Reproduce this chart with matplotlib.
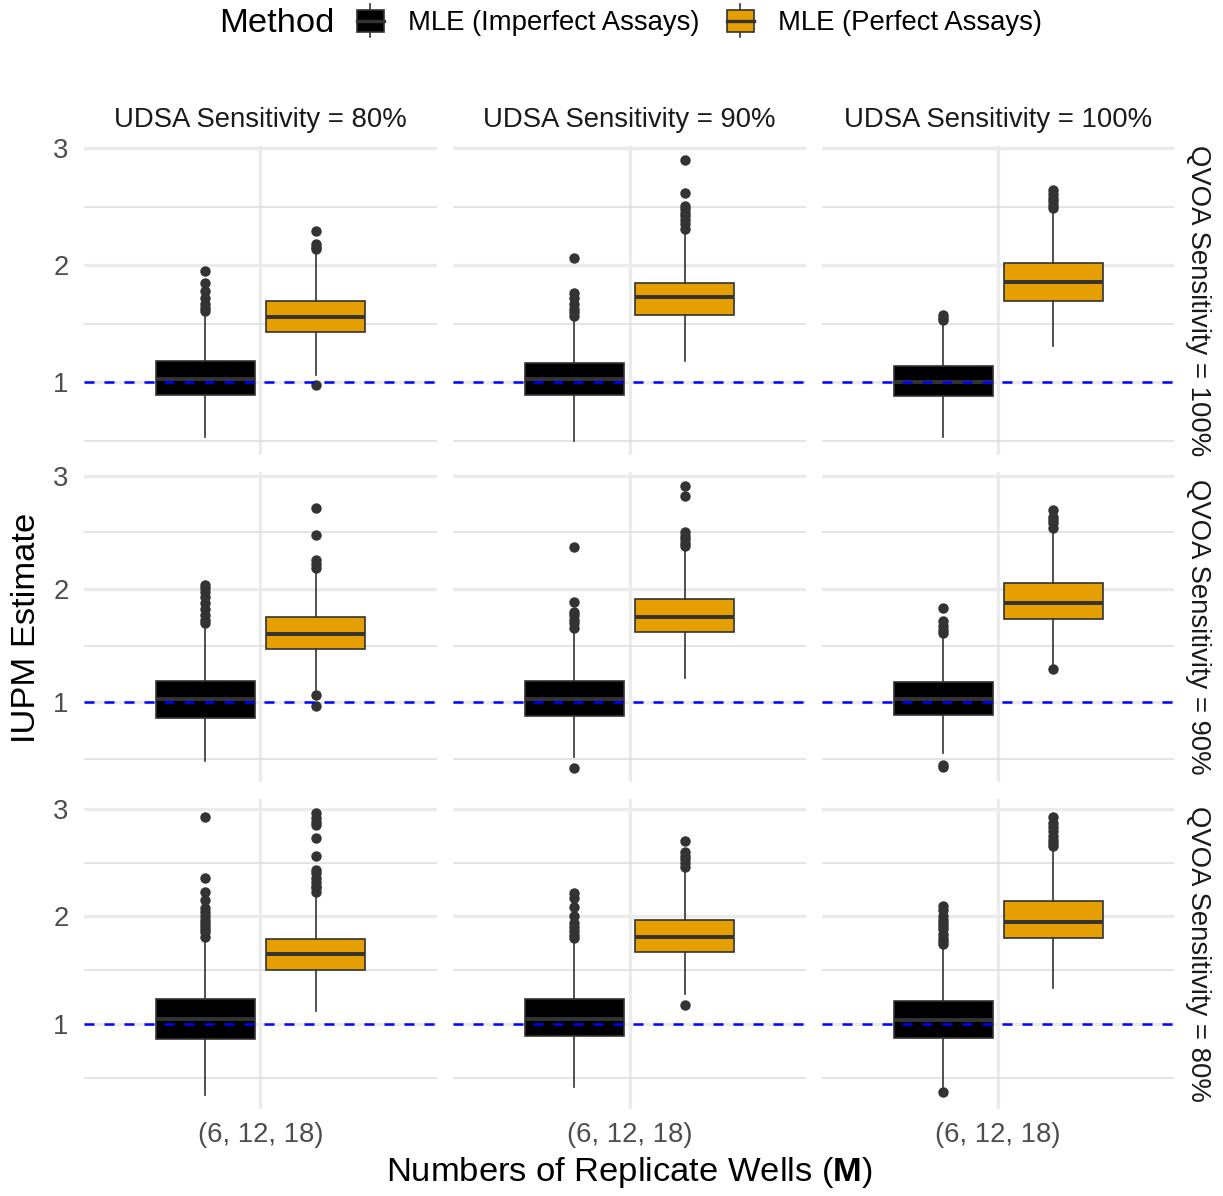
import matplotlib
matplotlib.use('Agg')
import matplotlib.pyplot as plt
from matplotlib.patches import Rectangle, Patch
from matplotlib.lines import Line2D
from matplotlib.legend_handler import HandlerBase
from matplotlib.ticker import MultipleLocator

plt.rcParams['font.family'] = ['Liberation Sans', 'DejaVu Sans']
plt.rcParams['mathtext.fontset'] = 'custom'
plt.rcParams['mathtext.rm'] = 'Liberation Sans'
plt.rcParams['mathtext.bf'] = 'Liberation Sans:bold'

udsa_labels = ['UDSA Sensitivity = 80%', 'UDSA Sensitivity = 90%', 'UDSA Sensitivity = 100%']
qvoa_labels = ['QVOA Sensitivity = 100%', 'QVOA Sensitivity = 90%', 'QVOA Sensitivity = 80%']
methods = ['MLE (Imperfect Assays)', 'MLE (Perfect Assays)']
method_colors = ['#000000', '#E69F00']
wells_label = '(6, 12, 18)'
true_iupm = 1.0

# box summaries, indexed [row][col][method]
q1 = [[[0.89, 1.43], [0.895, 1.576], [0.88, 1.70]],
      [[0.86, 1.47], [0.88, 1.62], [0.89, 1.74]],
      [[0.86, 1.50], [0.89, 1.67], [0.87, 1.80]]]
med = [[[1.03, 1.56], [1.03, 1.73], [1.00, 1.86]],
       [[1.03, 1.60], [1.03, 1.75], [1.03, 1.88]],
       [[1.05, 1.65], [1.05, 1.81], [1.04, 1.95]]]
q3 = [[[1.18, 1.70], [1.17, 1.85], [1.14, 2.02]],
      [[1.185, 1.75], [1.19, 1.915], [1.18, 2.05]],
      [[1.23, 1.79], [1.23, 1.97], [1.21, 2.14]]]
whis_lo = [[[0.53, 1.06], [0.50, 1.18], [0.53, 1.31]],
           [[0.48, 1.11], [0.52, 1.215], [0.55, 1.33]],
           [[0.34, 1.12], [0.41, 1.28], [0.41, 1.33]]]
whis_hi = [[[1.57, 2.12], [1.53, 2.27], [1.50, 2.45]],
           [[1.67, 2.17], [1.63, 2.35], [1.59, 2.51]],
           [[1.77, 2.19], [1.75, 2.43], [1.71, 2.62]]]
outliers = [
    [[[1.61, 1.64, 1.67, 1.72, 1.78, 1.85, 1.95], [0.98, 2.14, 2.16, 2.18, 2.29]],
     [[1.57, 1.60, 1.63, 1.67, 1.72, 1.76, 2.06], [2.31, 2.35, 2.39, 2.42, 2.45, 2.48, 2.51, 2.62, 2.90]],
     [[1.53, 1.55, 1.58], [2.49, 2.52, 2.55, 2.58, 2.61, 2.64]]],
    [[[1.70, 1.73, 1.77, 1.82, 1.88, 1.93, 1.97, 2.01, 2.04], [0.97, 1.06, 2.19, 2.22, 2.26, 2.48, 2.72]],
     [[0.42, 1.66, 1.70, 1.73, 1.77, 1.80, 1.89, 2.37], [2.38, 2.41, 2.44, 2.47, 2.50, 2.82, 2.91]],
     [[0.43, 0.45, 1.61, 1.64, 1.67, 1.715, 1.83], [1.29, 2.54, 2.58, 2.61, 2.64, 2.70]]],
    [[[1.81, 1.85, 1.88, 1.91, 1.94, 1.97, 2.00, 2.04, 2.08, 2.15, 2.23, 2.36, 2.92],
      [2.23, 2.26, 2.28, 2.32, 2.36, 2.40, 2.43, 2.56, 2.73, 2.85, 2.88, 2.91, 2.96]],
     [[1.80, 1.83, 1.86, 1.90, 1.94, 2.00, 2.09, 2.17, 2.22], [1.18, 2.46, 2.50, 2.53, 2.56, 2.60, 2.70]],
     [[0.365, 1.74, 1.77, 1.80, 1.84, 1.88, 1.91, 1.94, 1.97, 2.00, 2.06, 2.10],
      [2.65, 2.68, 2.71, 2.75, 2.79, 2.83, 2.87, 2.92]]],
]

W, H = 1223, 1196
fig = plt.figure(figsize=(W / 100, H / 100), dpi=100)

col_x = [(84, 437), (453, 806), (822, 1174)]
row_y = [(146, 455), (472, 782), (799, 1109)]

small = 19.8
big = 24.8
edge = '#333333'


def px_axes(x0, x1, y0, y1):
    return fig.add_axes([x0 / W, 1 - y1 / H, (x1 - x0) / W, (y1 - y0) / H])


class BoxKey(HandlerBase):
    def create_artists(self, legend, orig_handle, xdescent, ydescent, width, height, fontsize, trans):
        x0, y0 = -xdescent, -ydescent
        cx = x0 + width / 2
        whisk = Line2D([cx, cx], [y0 - 0.25 * height, y0 + 1.25 * height], color=edge, lw=1.2, transform=trans)
        box = Rectangle((x0 + 0.08 * width, y0), 0.84 * width, height,
                        facecolor=orig_handle.get_facecolor(), edgecolor=edge, lw=1.2, transform=trans)
        mline = Line2D([x0 + 0.08 * width, x0 + 0.92 * width], [y0 + height / 2] * 2, color=edge, lw=2.4, transform=trans)
        return [whisk, box, mline]


for r in range(3):
    vals = []
    for c in range(3):
        for m in range(2):
            vals += [whis_lo[r][c][m], whis_hi[r][c][m]] + outliers[r][c][m]
    lo, hi = min(vals), max(vals)
    pad = 0.05 * (hi - lo)
    for c in range(3):
        ax = px_axes(col_x[c][0], col_x[c][1], row_y[r][0], row_y[r][1])
        stats = []
        for m in range(2):
            stats.append(dict(med=med[r][c][m], q1=q1[r][c][m], q3=q3[r][c][m],
                              whislo=whis_lo[r][c][m], whishi=whis_hi[r][c][m],
                              fliers=outliers[r][c][m], label=methods[m]))
        bp = ax.bxp(stats, positions=[1 - 0.1875, 1 + 0.1875], widths=0.3375,
                    patch_artist=True, showcaps=False, manage_ticks=False,
                    boxprops=dict(edgecolor=edge, linewidth=1.2),
                    whiskerprops=dict(color=edge, linewidth=1.2),
                    medianprops=dict(color=edge, linewidth=2.8),
                    flierprops=dict(marker='o', markersize=7.5, markerfacecolor=edge,
                                    markeredgecolor='none'))
        for box, col in zip(bp['boxes'], method_colors):
            box.set_facecolor(col)
        ax.axhline(true_iupm, color='blue', lw=1.8, ls=(0, (4, 4)), zorder=5)

        ax.set_xlim(0.4, 1.6)
        ax.set_ylim(lo - pad, hi + pad)
        ax.set_xticks([1])
        ax.set_xticklabels([wells_label])
        ax.yaxis.set_major_locator(MultipleLocator(1))
        ax.yaxis.set_minor_locator(MultipleLocator(0.5))
        ax.set_axisbelow(True)
        ax.grid(True, which='major', color='#EBEBEB', lw=2.4)
        ax.grid(True, which='minor', axis='y', color='#DCDCDC', lw=1.1)
        for s in ax.spines.values():
            s.set_visible(False)
        ax.tick_params(which='both', length=0, labelsize=small, labelcolor='#4D4D4D')
        ax.tick_params(axis='y', pad=11)
        ax.tick_params(axis='x', pad=9)
        if c > 0:
            ax.tick_params(axis='y', labelleft=False)
        if r < 2:
            ax.tick_params(axis='x', labelbottom=False)
        if r == 0:
            ax.text(0.5, 1 + 26 / 309, udsa_labels[c], transform=ax.transAxes,
                    ha='center', va='center', fontsize=small, color='#1A1A1A')
        if c == 2:
            ax.text(1 + 24 / 352, 0.5, qvoa_labels[r], transform=ax.transAxes, rotation=-90,
                    ha='center', va='center', fontsize=small, color='#1A1A1A')

fig.text(27 / W, 1 - 627.5 / H, 'IUPM Estimate', rotation=90, ha='center', va='center', fontsize=big)
fig.text(629 / W, 1 - 1173 / H, r'Numbers of Replicate Wells ($\mathbf{M}$)', ha='center', va='center', fontsize=big)

fig.text(219 / W, 1 - 23 / H, 'Method', ha='left', va='center', fontsize=big)
handles = [Patch(facecolor=col) for col in method_colors]
fig.legend(handles, methods, handler_map={Patch: BoxKey()}, loc='center left',
           bbox_to_anchor=(354 / W, 1 - 23 / H), ncol=2, frameon=False, fontsize=small,
           handlelength=1.2, handleheight=0.85, handletextpad=0.75, columnspacing=0.9,
           borderpad=0, borderaxespad=0)

fig.savefig('out.png', dpi=100)
